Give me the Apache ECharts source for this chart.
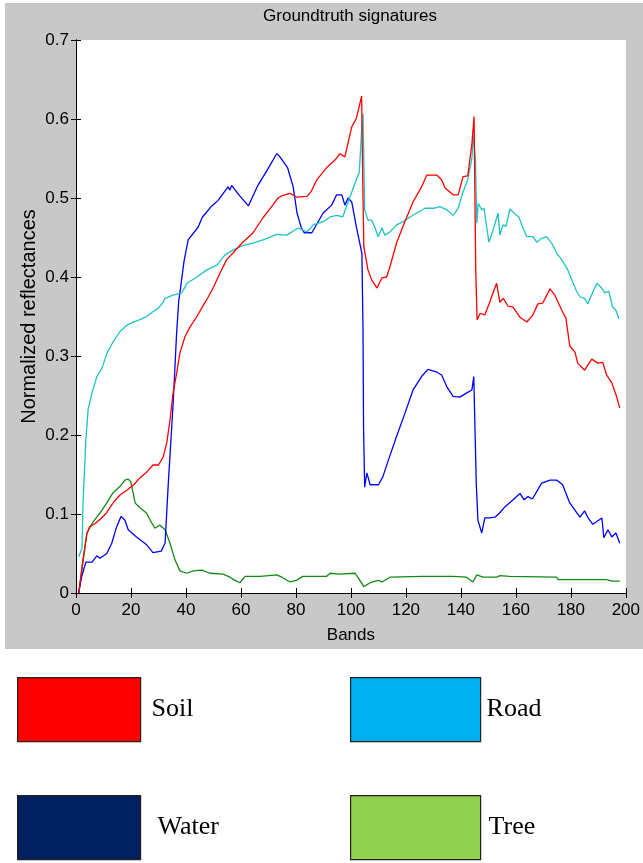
<!DOCTYPE html>
<html>
<head>
<meta charset="utf-8">
<script src="https://cdn.jsdelivr.net/npm/echarts@6/dist/echarts.min.js"></script>
<style>
html,body{margin:0;padding:0;background:#fff;}
#chart{width:643px;height:863px;}
</style>
</head>
<body>
<div id="chart"></div>
<script>
// ---- data ----
var xTicks = [0, 20, 40, 60, 80, 100, 120, 140, 160, 180, 200];
var yTicks = [0, 0.1, 0.2, 0.3, 0.4, 0.5, 0.6, 0.7];

var soilBands = [1, 2.5, 4, 5, 7, 9, 11, 13.5, 16, 18.5, 21, 23.3, 25.7, 28, 30, 31.7, 33, 34.2, 35.3, 36.6, 37.8, 39.6, 41.5, 44, 46.3, 48, 50, 52.4, 54.8, 57, 60.4, 64.4, 68, 71.6, 73.5, 75, 77.8, 80.4, 84, 85.5, 87.6, 91.3, 94.2, 96, 97.8, 100.3, 102, 103.3, 103.9, 104.3, 104.7, 106.2, 107.6, 109.5, 111.3, 113, 114.2, 116.6, 119.6, 122.6, 125.7, 127.6, 131.2, 133, 134.2, 137.2, 139, 140.8, 142.5, 144, 144.8, 145.4, 145.9, 147, 148.7, 150.5, 151.7, 153, 154.2, 155.4, 157.2, 159, 161.5, 164, 166.2, 168, 169.8, 172.4, 174.2, 176.7, 178.2, 179.6, 181.5, 182.5, 185, 187.6, 189.8, 191.6, 193, 194.9, 196.7, 197.8];
var soilValues = [0, 0.042, 0.076, 0.084, 0.088, 0.094, 0.101, 0.114, 0.124, 0.13, 0.137, 0.146, 0.153, 0.162, 0.162, 0.172, 0.19, 0.219, 0.253, 0.278, 0.304, 0.324, 0.337, 0.35, 0.364, 0.374, 0.387, 0.405, 0.422, 0.43, 0.443, 0.456, 0.475, 0.491, 0.5, 0.503, 0.506, 0.501, 0.502, 0.508, 0.523, 0.539, 0.548, 0.556, 0.552, 0.59, 0.601, 0.62, 0.629, 0.523, 0.438, 0.409, 0.396, 0.386, 0.399, 0.4, 0.413, 0.443, 0.47, 0.495, 0.514, 0.529, 0.529, 0.523, 0.513, 0.504, 0.504, 0.527, 0.528, 0.568, 0.603, 0.409, 0.346, 0.354, 0.352, 0.368, 0.38, 0.392, 0.368, 0.373, 0.363, 0.362, 0.349, 0.343, 0.352, 0.366, 0.367, 0.385, 0.377, 0.358, 0.348, 0.313, 0.305, 0.291, 0.282, 0.296, 0.291, 0.292, 0.276, 0.266, 0.248, 0.234];

var roadBands = [1, 2.2, 2.5, 3.6, 4.4, 5.8, 7.6, 9.5, 11.3, 13.5, 16, 18.5, 20.8, 23.3, 25.7, 28, 29.8, 31.7, 32.4, 35.3, 38.5, 40.4, 44, 47.6, 51.3, 54.2, 57.1, 60.7, 64.4, 68, 73, 76.7, 80.7, 84, 86.3, 90, 92.4, 94.9, 97, 99, 101.5, 103, 103.3, 103.9, 104.4, 105, 106.2, 107.5, 108.7, 109.9, 111.3, 112.4, 114.2, 116.6, 119, 121.5, 124.4, 127, 130, 132.4, 134.9, 137.2, 139, 140.8, 142.5, 144, 144.6, 145.3, 145.8, 146.3, 147.6, 148.4, 150.2, 151.7, 153.5, 154.2, 155.3, 156.4, 157.8, 160.3, 161.1, 162.5, 164, 166.2, 167.6, 169.4, 171.2, 173, 174.9, 176.7, 178.9, 180.4, 182.2, 183.3, 185, 186.2, 188, 189.5, 191.2, 192.4, 193.8, 195.2, 196.4, 197.5];
var roadValues = [0.046, 0.057, 0.109, 0.194, 0.232, 0.253, 0.274, 0.285, 0.304, 0.318, 0.331, 0.339, 0.343, 0.346, 0.35, 0.356, 0.36, 0.368, 0.373, 0.377, 0.38, 0.392, 0.4, 0.409, 0.415, 0.428, 0.434, 0.44, 0.443, 0.447, 0.454, 0.453, 0.462, 0.457, 0.466, 0.47, 0.476, 0.478, 0.476, 0.495, 0.519, 0.532, 0.548, 0.586, 0.607, 0.485, 0.472, 0.472, 0.463, 0.451, 0.462, 0.453, 0.457, 0.466, 0.47, 0.476, 0.482, 0.487, 0.487, 0.489, 0.485, 0.478, 0.487, 0.508, 0.523, 0.55, 0.58, 0.548, 0.468, 0.493, 0.485, 0.487, 0.444, 0.459, 0.481, 0.453, 0.466, 0.464, 0.486, 0.478, 0.476, 0.463, 0.451, 0.451, 0.444, 0.449, 0.451, 0.443, 0.43, 0.422, 0.409, 0.396, 0.381, 0.375, 0.373, 0.366, 0.381, 0.392, 0.386, 0.38, 0.382, 0.362, 0.358, 0.347];

var waterBands = [1, 2, 3.6, 5.8, 7.6, 8.7, 11.2, 13, 14.8, 16.4, 17.8, 19, 22, 25.7, 28, 31, 32.4, 33.5, 35.4, 36.6, 37.4, 37.8, 39.3, 40.8, 44.4, 46, 49.4, 51.7, 55.3, 56, 56.6, 59.5, 62.7, 66, 69.5, 73, 74, 77, 79, 80.4, 82, 83, 85.8, 89.9, 93, 94.8, 96.7, 97.8, 99, 100.3, 102, 104, 104.4, 104.6, 105, 105.8, 107, 110, 111.6, 114, 116.6, 119.7, 122.6, 125.7, 128, 131, 133, 134.9, 137.2, 139.6, 142, 144, 144.7, 145, 145.6, 146.2, 147.6, 148.7, 150.5, 152.4, 154, 156, 159, 161.5, 163, 164.4, 166, 169.4, 172.4, 174.8, 177, 179.6, 183.3, 185, 186.3, 188, 191.3, 192, 193.5, 194.9, 196.4, 197.8];
var waterValues = [0, 0.02, 0.039, 0.039, 0.047, 0.044, 0.05, 0.063, 0.084, 0.097, 0.092, 0.08, 0.071, 0.061, 0.051, 0.053, 0.063, 0.134, 0.244, 0.329, 0.371, 0.38, 0.42, 0.447, 0.463, 0.476, 0.49, 0.497, 0.514, 0.51, 0.516, 0.503, 0.49, 0.515, 0.535, 0.556, 0.553, 0.538, 0.514, 0.481, 0.462, 0.456, 0.456, 0.481, 0.491, 0.504, 0.504, 0.491, 0.5, 0.495, 0.463, 0.43, 0.333, 0.21, 0.134, 0.152, 0.137, 0.137, 0.147, 0.172, 0.198, 0.228, 0.257, 0.274, 0.283, 0.28, 0.276, 0.261, 0.249, 0.248, 0.253, 0.257, 0.274, 0.228, 0.139, 0.092, 0.076, 0.095, 0.095, 0.096, 0.101, 0.109, 0.118, 0.126, 0.118, 0.122, 0.119, 0.139, 0.143, 0.143, 0.137, 0.114, 0.096, 0.104, 0.095, 0.087, 0.095, 0.07, 0.08, 0.071, 0.076, 0.063];

var treeBands = [1, 4, 6.2, 8.7, 11.2, 13.5, 16, 17.8, 19, 19.9, 20.7, 21.5, 23.3, 25.7, 27, 28.7, 30.5, 32.4, 34.2, 36, 37.8, 40.3, 42.6, 45.8, 48.7, 53.5, 56, 57.8, 59.6, 61.5, 67, 73, 74.9, 77.8, 80.2, 82.5, 91.1, 92.4, 96, 101.5, 102.5, 104.7, 107, 110, 111.3, 114.2, 126.2, 137.2, 142, 144.4, 145.8, 148, 153, 154.2, 157.8, 174.8, 175.4, 193, 195, 197.8];
var treeValues = [0, 0.076, 0.09, 0.101, 0.114, 0.127, 0.135, 0.143, 0.144, 0.141, 0.128, 0.114, 0.108, 0.101, 0.092, 0.082, 0.086, 0.08, 0.063, 0.042, 0.028, 0.025, 0.028, 0.029, 0.025, 0.024, 0.02, 0.016, 0.013, 0.021, 0.021, 0.023, 0.02, 0.014, 0.016, 0.021, 0.021, 0.025, 0.024, 0.025, 0.02, 0.008, 0.013, 0.016, 0.014, 0.02, 0.021, 0.021, 0.02, 0.014, 0.023, 0.02, 0.02, 0.022, 0.021, 0.02, 0.017, 0.017, 0.015, 0.015];

var seriesNames = ['Soil', 'Road', 'Water', 'Tree'];
var lineColors = ['#FF0000', '#1EC3C3', '#0000FF', '#138A13'];
var legendColors = ['#FF0000', '#00B0F0', '#002060', '#92D050'];

// ---- build ----
function pairs(xs, ys) { return xs.map(function (x, i) { return [x, ys[i]]; }); }
var seriesData = [pairs(soilBands, soilValues), pairs(roadBands, roadValues), pairs(waterBands, waterValues), pairs(treeBands, treeValues)];

var sans = '"Liberation Sans", Arial, Helvetica, sans-serif';
var chart = echarts.init(document.getElementById('chart'), null, { renderer: 'canvas' });

var axisLine = { show: true, lineStyle: { color: '#000', width: 1 } };
var tick = { show: true, inside: true, length: 5, lineStyle: { color: '#000', width: 1 } };

var legendPos = [[17, 677], [350, 677], [17, 795], [350, 795]];
var legendBoxW = [123, 130, 123, 130];
var legendTextPad = [[0, 0, 0, 6], [0, 0, 0, 1], [6, 0, 0, 12], [6, 0, 0, 3]];

var option = {
  animation: false,
  backgroundColor: '#ffffff',
  title: {
    text: 'Groundtruth signatures',
    left: 350, top: 8, padding: 0, textAlign: 'center',
    textStyle: { fontFamily: sans, fontSize: 17, fontWeight: 'normal', color: '#000' }
  },
  graphic: [{ type: 'rect', z: -100, silent: true, shape: { x: 5, y: 3, width: 638, height: 646 }, style: { fill: '#C8C8C8' } }],
  grid: { left: 76, right: 17, top: 40, bottom: 270, show: true, backgroundColor: '#fff', borderWidth: 0 },
  xAxis: [{
    type: 'value', min: xTicks[0], max: xTicks[xTicks.length - 1], interval: xTicks[1] - xTicks[0], position: 'bottom',
    axisLine: axisLine, axisTick: tick, splitLine: { show: false },
    axisLabel: { color: '#000', fontFamily: sans, fontSize: 17, margin: 9 },
    name: 'Bands', nameLocation: 'middle', nameGap: 34, nameMoveOverlap: false,
    nameTextStyle: { color: '#000', fontFamily: sans, fontSize: 17 }
  }, {
    type: 'value', min: xTicks[0], max: xTicks[xTicks.length - 1], interval: xTicks[1] - xTicks[0], position: 'top',
    axisLine: axisLine, axisTick: tick, splitLine: { show: false }, axisLabel: { show: false }
  }],
  yAxis: [{
    type: 'value', min: yTicks[0], max: yTicks[yTicks.length - 1], interval: 0.1, position: 'left',
    axisLine: axisLine, axisTick: tick, splitLine: { show: false },
    axisLabel: { color: '#000', fontFamily: sans, fontSize: 17, margin: 7 },
    name: 'Normalized reflectances', nameLocation: 'middle', nameGap: 37, nameRotate: 90, nameMoveOverlap: false,
    nameTextStyle: { color: '#000', fontFamily: sans, fontSize: 20 }
  }, {
    type: 'value', min: yTicks[0], max: yTicks[yTicks.length - 1], interval: 0.1, position: 'right',
    axisLine: axisLine, axisTick: tick, splitLine: { show: false }, axisLabel: { show: false }
  }],
  legend: seriesNames.map(function (n, i) {
    return {
      data: [{ name: n, icon: 'rect', itemStyle: { color: legendColors[i], borderColor: '#222', borderWidth: 1.2 } }],
      left: legendPos[i][0], top: legendPos[i][1], padding: 0,
      itemWidth: legendBoxW[i], itemHeight: 64, symbolKeepAspect: false, selectedMode: false,
      textStyle: { fontFamily: '"Liberation Serif", "Times New Roman", serif', fontSize: 26, color: '#000', padding: legendTextPad[i] }
    };
  }),
  series: seriesNames.map(function (n, i) {
    return {
      name: n, type: 'line', xAxisIndex: 0, yAxisIndex: 0,
      data: seriesData[i], showSymbol: false, symbol: 'none', smooth: false,
      lineStyle: { color: lineColors[i], width: 1.3 }, itemStyle: { color: lineColors[i] },
      z: 10 - i
    };
  })
};
chart.setOption(option);
</script>
</body>
</html>
